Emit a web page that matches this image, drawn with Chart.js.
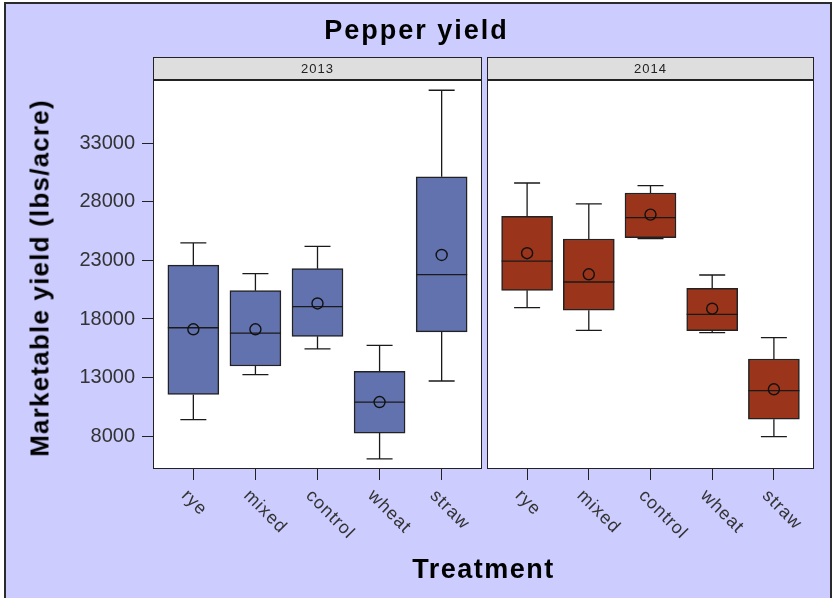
<!DOCTYPE html>
<html lang="en">
<head>
    <meta charset="UTF-8">
    <title>Pepper yield</title>
    <script src="https://cdn.jsdelivr.net/npm/chart.js"></script>
    <style>
        body {
            margin: 0;
            background: #ffffff;
            font-family: 'Liberation Sans', Arial, sans-serif;
        }
        #wrap {
            position: relative;
            width: 833px;
            height: 598px;
            overflow: hidden;
        }
        #frame {
            position: absolute;
            left: 4px;
            top: 2px;
            width: 824px;
            height: 610px;
            background: #ccccff;
            border: 2px solid #2a2a2a;
        }
        canvas {
            position: absolute;
            top: 0;
        }
        #c2013 { left: 0; }
        #c2014 { left: 484px; }
        .label {
            position: absolute;
            font-weight: bold;
            color: #000;
            white-space: nowrap;
        }
        #title {
            left: 0;
            width: 833px;
            top: 15px;
            text-align: center;
            font-size: 27px;
            letter-spacing: 2px;
        }
        #xtitle {
            left: 153px;
            width: 661px;
            top: 554px;
            text-align: center;
            font-size: 27px;
            letter-spacing: 1.5px;
        }
        #ytitle {
            left: 40px;
            top: 278px;
            font-size: 26px;
            letter-spacing: 1.2px;
            transform: translate(-50%, -50%) rotate(-90deg);
        }
    </style>
</head>
<body>
<div id="wrap">
    <div id="frame"></div>
    <canvas id="c2013" width="484" height="598"></canvas>
    <canvas id="c2014" width="349" height="598"></canvas>
    <div class="label" id="title">Pepper yield</div>
    <div class="label" id="ytitle">Marketable yield (lbs/acre)</div>
    <div class="label" id="xtitle">Treatment</div>
</div>
<script>
    const treatments = ['rye', 'mixed', 'control', 'wheat', 'straw'];
    const yTicks = [8000, 13000, 18000, 23000, 28000, 33000];

    // 2013 box stats
    const min2013 = [9400, 13250, 15450, 6050, 12700];
    const q1_2013 = [11550, 13980, 16520, 8250, 16900];
    const med2013 = [17250, 16800, 19050, 10900, 21800];
    const q3_2013 = [22600, 20420, 22300, 13530, 30150];
    const max2013 = [24500, 21870, 24200, 15750, 37550];
    const mean2013 = [17120, 17120, 19330, 10900, 23470];

    // 2014 box stats
    const min2014 = [18970, 17030, 24870, 16830, 7940];
    const q1_2014 = [20450, 18750, 24950, 17000, 9430];
    const med2014 = [22950, 21160, 26660, 18400, 11870];
    const q3_2014 = [26780, 24840, 28770, 20620, 14580];
    const max2014 = [29620, 27830, 29400, 21760, 16400];
    const mean2014 = [23620, 21820, 26920, 18880, 11990];

    const yMin = 5180;
    const yMax = 38510;

    // whiskers + median lines, drawn right after the box dataset
    const boxExtras = {
        id: 'boxExtras',
        beforeDatasetsDraw(chart) {
            const a = chart.chartArea;
            chart.ctx.save();
            chart.ctx.fillStyle = '#ffffff';
            chart.ctx.fillRect(a.left, a.top, a.right - a.left, a.bottom - a.top);
            chart.ctx.restore();
        },
        afterDatasetDraw(chart, args) {
            if (args.index !== 1) return;
            const st = chart.options.plugins.boxExtras;
            const x = chart.scales.x, y = chart.scales.y;
            const ctx = chart.ctx;
            const boxW = 51, capW = 26;
            ctx.save();
            ctx.strokeStyle = '#1a1a1a';
            ctx.lineWidth = 1.3;
            st.med.forEach((m, i) => {
                const cx = x.getPixelForValue(i);
                const yLo = y.getPixelForValue(st.min[i]);
                const yQ1 = y.getPixelForValue(st.q1[i]);
                const yQ3 = y.getPixelForValue(st.q3[i]);
                const yHi = y.getPixelForValue(st.max[i]);
                const yMed = y.getPixelForValue(m);
                ctx.beginPath();
                ctx.moveTo(cx, yQ3); ctx.lineTo(cx, yHi);
                ctx.moveTo(cx - capW / 2, yHi); ctx.lineTo(cx + capW / 2, yHi);
                ctx.moveTo(cx, yQ1); ctx.lineTo(cx, yLo);
                ctx.moveTo(cx - capW / 2, yLo); ctx.lineTo(cx + capW / 2, yLo);
                ctx.moveTo(cx - boxW / 2, yMed); ctx.lineTo(cx + boxW / 2, yMed);
                ctx.stroke();
            });
            ctx.restore();
        },
        afterDraw(chart) {
            const st = chart.options.plugins.boxExtras;
            const a = chart.chartArea;
            const ctx = chart.ctx;
            ctx.save();
            // header strip
            const hTop = a.top - 22;
            ctx.fillStyle = '#dedede';
            ctx.fillRect(a.left, hTop, a.right - a.left, 22);
            ctx.strokeStyle = '#222';
            ctx.lineWidth = 1;
            ctx.strokeRect(a.left + 0.5, hTop + 0.5, a.right - a.left - 1, 22);
            ctx.fillStyle = '#222';
            ctx.font = '13px "Liberation Sans", Arial, sans-serif';
            ctx.letterSpacing = '1px';
            ctx.textAlign = 'center';
            ctx.textBaseline = 'middle';
            ctx.fillText(st.year, (a.left + a.right) / 2, hTop + 12);
            // panel frame
            ctx.strokeStyle = '#222';
            ctx.lineWidth = 1;
            ctx.strokeRect(a.left + 0.5, a.top + 0.5, a.right - a.left - 1, a.bottom - a.top - 1);
            ctx.lineWidth = 2;
            ctx.beginPath();
            ctx.moveTo(a.left, a.top + 1);
            ctx.lineTo(a.right, a.top + 1);
            ctx.stroke();
            // rotated category labels
            const x = chart.scales.x;
            ctx.fillStyle = '#333';
            ctx.font = '18px "Liberation Sans", Arial, sans-serif';
            ctx.letterSpacing = '1px';
            ctx.textAlign = 'left';
            ctx.textBaseline = 'middle';
            treatments.forEach((t, i) => {
                ctx.save();
                ctx.translate(x.getPixelForValue(i) - 9, a.bottom + 24);
                ctx.rotate(Math.PI / 4);
                ctx.fillText(t, 0, 0);
                ctx.restore();
            });
            ctx.restore();
        }
    };

    function makePanel(id, year, stats, color, withAxis, padding) {
        const ctx = document.getElementById(id).getContext('2d');
        return new Chart(ctx, {
            type: 'bar',
            data: {
                datasets: [{
                    type: 'scatter',
                    data: stats.mean.map((v, i) => ({ x: i, y: v })),
                    pointStyle: 'circle',
                    pointRadius: 5.5,
                    borderColor: '#111',
                    borderWidth: 1.4,
                    backgroundColor: 'rgba(0,0,0,0)'
                }, {
                    type: 'bar',
                    data: stats.q1.map((v, i) => ({ x: i, y: [v, stats.q3[i]] })),
                    backgroundColor: color,
                    borderColor: '#222',
                    borderWidth: 1.5,
                    borderSkipped: false,
                    barThickness: 51
                }]
            },
            options: {
                responsive: false,
                animation: false,
                layout: { padding: padding, autoPadding: false },
                plugins: {
                    legend: { display: false },
                    tooltip: { enabled: false },
                    boxExtras: Object.assign({ year: year }, stats)
                },
                scales: {
                    x: {
                        type: 'linear',
                        offset: false,
                        min: -0.65,
                        max: 4.65,
                        afterBuildTicks: s => { s.ticks = treatments.map((t, i) => ({ value: i })); },
                        afterFit: s => { s.height = 11; },
                        ticks: { display: false },
                        border: { display: false },
                        grid: { offset: false, drawOnChartArea: false, drawTicks: true, tickLength: 11, color: '#222' }
                    },
                    y: {
                        display: withAxis,
                        min: yMin,
                        max: yMax,
                        afterBuildTicks: s => { s.ticks = yTicks.map(v => ({ value: v })); },
                        afterFit: s => { if (withAxis) s.width = 153; },
                        ticks: {
                            color: '#333',
                            padding: 7,
                            callback: v => String(v),
                            font: { family: '"Liberation Sans", Arial, sans-serif', size: 20 }
                        },
                        border: { display: false },
                        grid: { drawOnChartArea: false, drawTicks: true, tickLength: 11, color: '#222' }
                    }
                }
            },
            plugins: [boxExtras]
        });
    }

    makePanel('c2013', '2013', { min: min2013, q1: q1_2013, med: med2013, q3: q3_2013, max: max2013, mean: mean2013 },
        '#6272ae', true, { top: 79, right: 2, bottom: 118, left: 0 });
    makePanel('c2014', '2014', { min: min2014, q1: q1_2014, med: med2014, q3: q3_2014, max: max2014, mean: mean2014 },
        '#9a341a', false, { top: 79, right: 19, bottom: 118, left: 3 });
</script>
</body>
</html>
